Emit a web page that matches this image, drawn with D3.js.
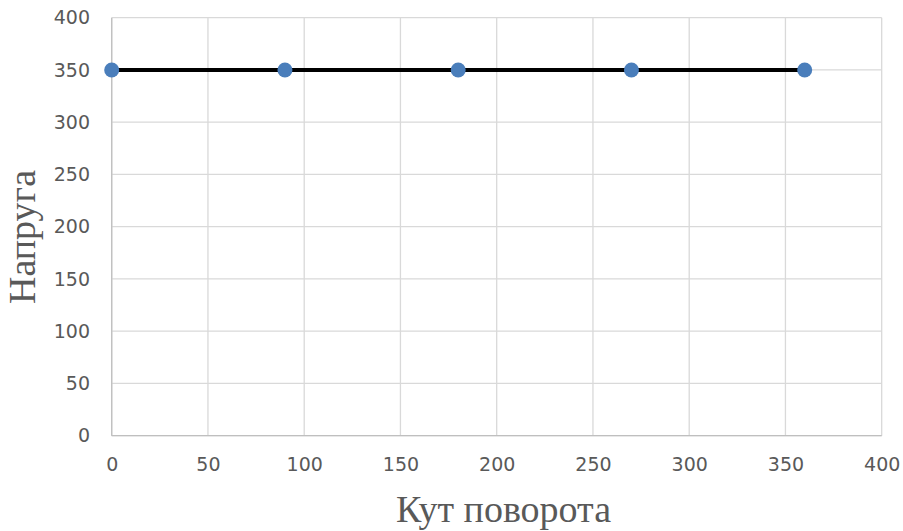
<!DOCTYPE html>
<html><head><meta charset="utf-8">
<script src="https://cdn.jsdelivr.net/npm/d3@7"></script>
<style>body{margin:0;background:#fff}svg{display:block}</style>
</head><body>
<svg id="c" width="903" height="531"></svg>
<script>
const xValues = [0, 90, 180, 270, 360];
const yValues = [350, 350, 350, 350, 350];
const xTicks = [0, 50, 100, 150, 200, 250, 300, 350, 400];
const yTicks = [0, 50, 100, 150, 200, 250, 300, 350, 400];
const xTitle = "Кут поворота";
const yTitle = "Напруга";

const svg = d3.select("#c");
const L = 111.7, R = 881.7, T = 17.7, B = 435.7;
const x = d3.scaleLinear().domain([0, 400]).range([L, R]);
const y = d3.scaleLinear().domain([0, 400]).range([B, T]);

// grid
svg.append("g").selectAll("line").data(xTicks).join("line")
  .attr("x1", d => x(d)).attr("x2", d => x(d)).attr("y1", T).attr("y2", B)
  .attr("stroke", "#d9d9d9").attr("stroke-width", 1.3);
svg.append("g").selectAll("line").data(yTicks).join("line")
  .attr("y1", d => y(d)).attr("y2", d => y(d)).attr("x1", L).attr("x2", R)
  .attr("stroke", "#d9d9d9").attr("stroke-width", 1.3);
// axis lines
svg.append("line").attr("x1", L).attr("x2", L).attr("y1", T).attr("y2", B).attr("stroke", "#bfbfbf").attr("stroke-width", 1.3);
svg.append("line").attr("x1", L).attr("x2", R).attr("y1", B).attr("y2", B).attr("stroke", "#bfbfbf").attr("stroke-width", 1.3);

const tickFont = "'DejaVu Sans', sans-serif";
// tick labels
const yAxis = d3.axisLeft(y).tickValues(yTicks).tickSize(0).tickPadding(21.7);
const gy = svg.append("g").attr("transform", `translate(${L},0)`).call(yAxis);
gy.select(".domain").remove();
gy.selectAll("text").attr("fill", "#595959").style("font-family", tickFont).style("font-size", "19px");

const xAxis = d3.axisBottom(x).tickValues(xTicks).tickSize(0).tickPadding(22.3);
const gx = svg.append("g").attr("transform", `translate(0,${B})`).call(xAxis);
gx.select(".domain").remove();
gx.selectAll("text").attr("fill", "#595959").style("font-family", tickFont).style("font-size", "19px");

// line
const data = xValues.map((v, i) => [v, yValues[i]]);
svg.append("path").datum(data)
  .attr("d", d3.line().x(d => x(d[0])).y(d => y(d[1])))
  .attr("fill", "none").attr("stroke", "#000").attr("stroke-width", 4);
svg.append("g").selectAll("circle").data(data).join("circle")
  .attr("cx", d => x(d[0])).attr("cy", d => y(d[1])).attr("r", 7.5)
  .attr("fill", "#4a7ebb");

// titles
svg.append("text").attr("x", 503.5).attr("y", 521.5)
  .attr("text-anchor", "middle").attr("fill", "#595959")
  .style("font-family", "'Liberation Serif', 'Times New Roman', serif").style("font-size", "38px")
  .text(xTitle);
svg.append("text").attr("transform", `translate(35,237) rotate(-90)`)
  .attr("text-anchor", "middle").attr("fill", "#595959")
  .style("font-family", "'Liberation Serif', 'Times New Roman', serif").style("font-size", "38px")
  .text(yTitle);
</script>
</body></html>
